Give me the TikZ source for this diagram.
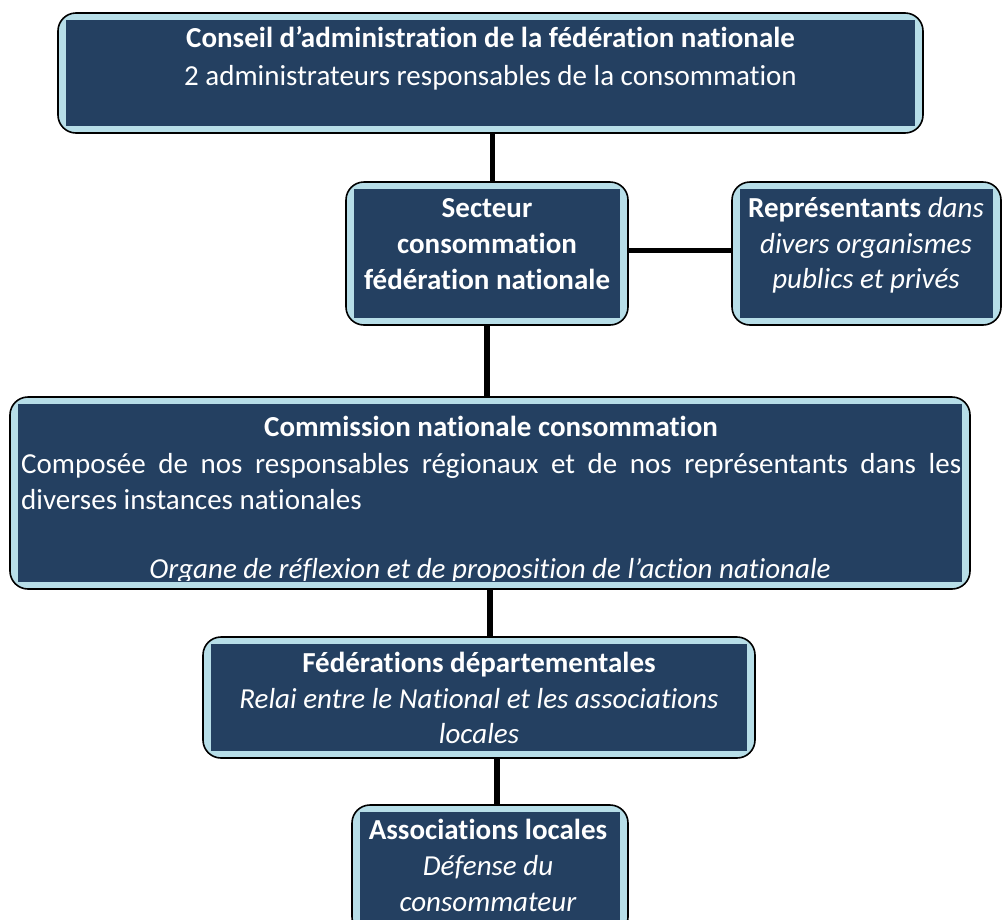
\documentclass[tikz,border=0pt]{standalone}
\usepackage{fontspec}
\setmainfont{Carlito}[Ligatures=NoCommon]
\usetikzlibrary{positioning, calc}

\definecolor{orgnavy}{RGB}{36,64,97}
\definecolor{bandblue}{RGB}{183,222,232}

\tikzset{
  orgbox/.style={draw=black, line width=1.6pt, fill=bandblue, rounded corners=18pt, inner sep=0pt,
    path picture={\fill[orgnavy, sharp corners] ([xshift=8pt,yshift=-7pt]path picture bounding box.north west) rectangle ([xshift=-8pt,yshift=7pt]path picture bounding box.south east);}},
  txt/.style={text=white, inner sep=0pt, anchor=base},
  link/.style={line width=5.5pt},
}

\begin{document}
\begin{tikzpicture}[x=1pt, y=-1pt, font=\fontsize{29}{34}\selectfont]
        \useasboundingbox (0,0) rectangle (1003,919);

        \node[orgbox, minimum width=865pt, minimum height=120pt] (conseil) at (490.5,73) {};
        \node[orgbox, minimum width=282pt, minimum height=143pt] (secteur) at (487,253.5) {};
        \node[orgbox, minimum width=269pt, minimum height=143pt] (representants) at (866.5,253.5) {};
        \node[orgbox, minimum width=960pt, minimum height=192pt] (commission) at (490,493) {};
        \node[orgbox, minimum width=552pt, minimum height=121pt] (federations) at (479,697.5) {};
        \node[orgbox, minimum width=276pt, minimum height=130pt] (associations) at (490,870) {};

        \node[txt] (conseil-l1) at (490.5,47) {\textbf{Conseil d’administration de la fédération nationale}};
        \node[txt] (conseil-l2) at (490.5,85) {2 administrateurs responsables de la consommation};

        \node[txt] (secteur-l1) at (487,217) {\textbf{Secteur}};
        \node[txt] (secteur-l2) at (487,253) {\textbf{consommation}};
        \node[txt] (secteur-l3) at (487,289) {\textbf{fédération nationale}};

        \node[txt] (representants-l1) at (866,217) {\textbf{Représentants} \textit{dans}};
        \node[txt] (representants-l2) at (866,253) {\textit{divers organismes}};
        \node[txt] (representants-l3) at (866,288) {\textit{publics et privés}};

        \node[txt] (commission-l1) at (491,436) {\textbf{Commission nationale consommation}};
        \node[txt, anchor=base west] (commission-l2) at (21,473) {\makebox[940pt][s]{Composée de nos responsables régionaux et de nos représentants dans les}};
        \node[txt, anchor=base west] (commission-l3) at (21,509) {diverses instances nationales};
        \begin{scope}
        \clip ([xshift=8pt,yshift=9pt]commission.south west) rectangle ([xshift=-8pt,yshift=-7pt]commission.north east);
        \node[txt] (commission-l4) at (490,578) {\textit{Organe de réflexion et de proposition de l’action nationale}};
        \end{scope}

        \node[txt] (federations-l1) at (479,672) {\textbf{Fédérations départementales}};
        \node[txt] (federations-l2) at (479,708) {\textit{Relai entre le National et les associations}};
        \node[txt] (federations-l3) at (479,743) {\textit{locales}};

        \node[txt] (associations-l1) at (488,839) {\textbf{Associations locales}};
        \node[txt] (associations-l2) at (488,875) {\textit{Défense du}};
        \node[txt] (associations-l3) at (488,911) {\textit{consommateur}};

        \draw[link] ([xshift=2pt]conseil.south) -- ([xshift=2pt]conseil.south |- secteur.north);
        \draw[link] ([yshift=3pt]secteur.east) -- ([yshift=3pt]secteur.east -| representants.west);
        \draw[link] (secteur.south) -- (secteur.south |- commission.north);
        \draw[link] (commission.south) -- (commission.south |- federations.north);
        \draw[link] ([xshift=7pt]associations.north) -- ([xshift=7pt]associations.north |- federations.south);

    \end{tikzpicture}
\end{document}
